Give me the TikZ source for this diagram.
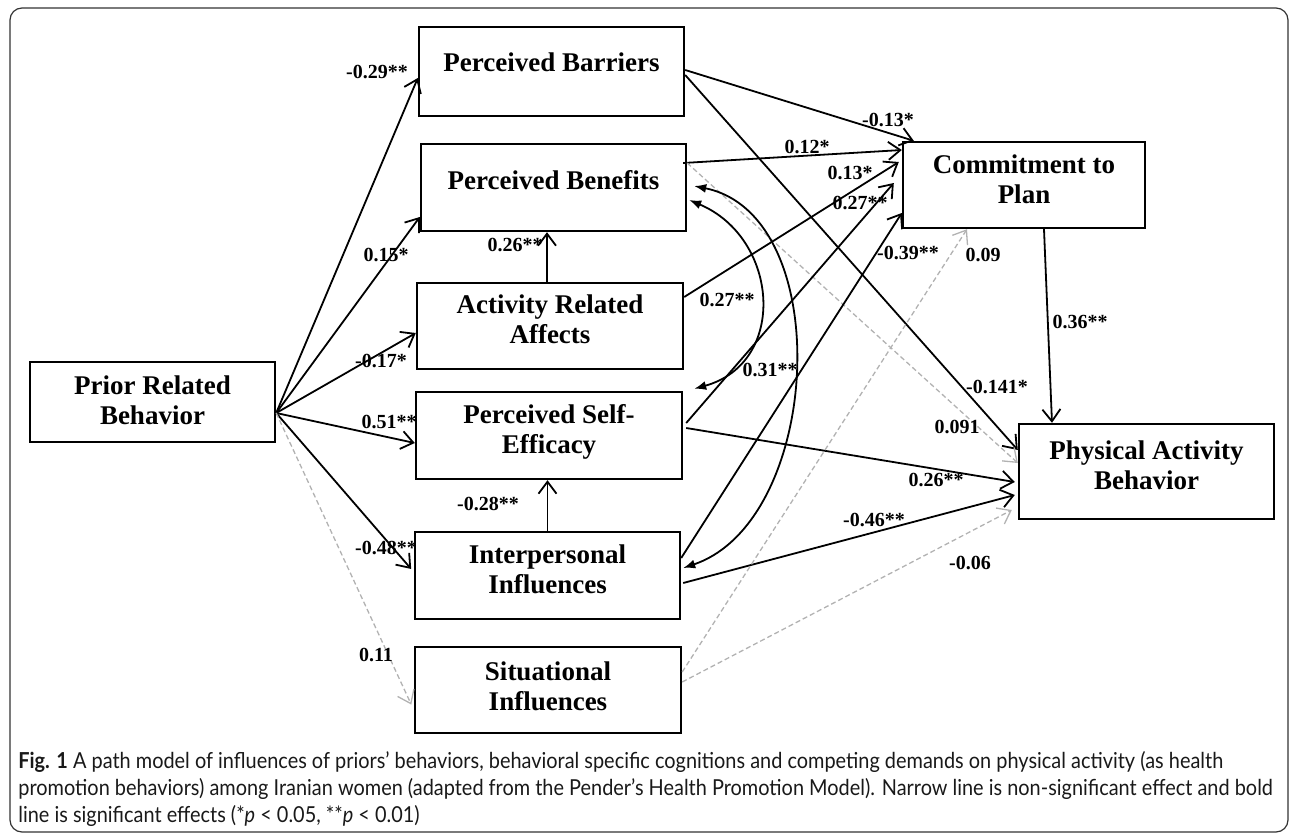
\documentclass[tikz,border=0pt]{standalone}
\usepackage{fontspec}
\setmainfont{Liberation Serif}
\newfontfamily\capfont[FakeStretch=0.905]{Lato}
\usetikzlibrary{arrows.meta,calc}
\begin{document}
\begin{tikzpicture}[x=0.5pt,y=-0.5pt,
  box/.style={draw, line width=1.2pt, align=center, inner sep=0pt,
    font=\fontsize{13.5}{15}\selectfont\bfseries},
  lab/.style={font=\fontsize{10}{12}\selectfont\bfseries, inner sep=0.5pt},
  arr/.style={line width=0.9pt, -{Straight Barb[length=6pt,width=9pt]}},
  ns/.style={gray!60, line width=0.65pt, dash pattern=on 2.5pt off 1.5pt,
    -{Straight Barb[length=6pt,width=9pt]}},
  cor/.style={line width=0.9pt, {Latex[length=6pt,width=4.5pt]}-{Latex[length=6pt,width=4.5pt]}},
]
\useasboundingbox (0,0) rectangle (1292,835);
\draw[line width=0.6pt, rounded corners=6pt, black!80] (10,8) rectangle (1288,832);

% boxes
\node[box, minimum width=132.5pt, minimum height=44.5pt, text depth=9pt]   (PB)   at (551.5,71.5) {Perceived Barriers};
\node[box, minimum width=132.5pt, minimum height=43.5pt, text depth=7.5pt] (PBen) at (553.5,187.5) {Perceived Benefits};
\node[box, minimum width=133pt,   minimum height=43pt,   text depth=6.5pt] (ARA)  at (550,326) {Activity Related\\Affects};
\node[box, minimum width=133pt,   minimum height=43.5pt, text depth=7pt]   (PSE)  at (549,435.5) {Perceived Self-\\Efficacy};
\node[box, minimum width=132.5pt, minimum height=43.5pt, text depth=6pt]   (II)   at (547.5,575.5) {Interpersonal\\Influences};
\node[box, minimum width=133pt,   minimum height=43pt,   text depth=3.5pt] (SI)   at (548,690) {Situational\\Influences};
\node[box, minimum width=122.5pt, minimum height=40pt,   text depth=2pt]   (PRB)  at (152.5,402) {Prior Related\\Behavior};
\node[box, minimum width=121pt,   minimum height=43pt,   text depth=5.5pt] (CP)   at (1024,185) {Commitment to\\Plan};
\node[box, minimum width=127.5pt, minimum height=47.5pt, text depth=6.5pt] (PAB)  at (1146.5,471.5) {Physical Activity\\Behavior};

\coordinate (o) at ([yshift=-5.5pt]PRB.east);

% from Prior Related Behavior
\draw[arr] (o) -- ([yshift=-3.25pt]PB.west);
\draw[arr] (o) -- ([yshift=-14.75pt]PBen.west);
\draw[arr] (o) -- ([yshift=-3.5pt]ARA.west);
\draw[arr] (o) -- ([yshift=-3.75pt]PSE.west);
\draw[arr, shorten >=2pt] (o) -- ([yshift=1.75pt]II.west);
\draw[ns, shorten >=3pt] (o) -- ([yshift=-10pt]SI.west);

% from Perceived Barriers
\draw[arr] ([yshift=0.75pt]PB.east) -- ([xshift=6pt]CP.north west);
\draw[arr] ([yshift=-1.75pt]PB.east) -- ([yshift=10.75pt]PAB.west);

% from Perceived Benefits
\draw[arr] ([xshift=-2pt,yshift=12.25pt]PBen.east) -- ([yshift=17.5pt]CP.west);
\draw[ns] ([yshift=12.25pt]PBen.east) -- ([yshift=4.25pt]PAB.west);

% from Activity Related Affects
\draw[arr] ([xshift=-1.5pt]ARA.north) -- ([xshift=-1.5pt]ARA.north |- PBen.south);
\draw[arr] ([yshift=14.5pt]ARA.east) -- ([xshift=-1.5pt,yshift=11.5pt]CP.west);

% from Perceived Self-Efficacy
\draw[arr] ([xshift=1.5pt,yshift=6.25pt]PSE.east) -- ([xshift=-4pt,yshift=1pt]CP.west);
\draw[arr] ([xshift=1.5pt,yshift=3.75pt]PSE.east) -- ([xshift=-1.5pt,yshift=-5.25pt]PAB.west);

% from Interpersonal Influences
\draw[arr] ([yshift=8.75pt]II.east) -- ([yshift=-14pt]CP.west);
\draw[arr] (II.north) -- (II.north |- PSE.south);
\draw[arr] ([xshift=1pt,yshift=-3.75pt]II.east) -- ([xshift=-1.5pt,yshift=-11.75pt]PAB.west);

% from Situational Influences
\draw[ns] ([yshift=9pt]SI.east) -- ([xshift=-28.5pt]CP.south);
\draw[ns] ([yshift=4pt]SI.east) -- ([xshift=-3pt,yshift=-19.25pt]PAB.west);

% from Commitment to Plan
\draw[arr] ([xshift=10pt]CP.south) -- ([xshift=-47.25pt]PAB.north);

% correlations
\draw[cor] ([xshift=1pt,yshift=-6.25pt]PBen.east) .. controls +(90,38) and +(94,-26) .. ([xshift=5.5pt,yshift=1pt]PSE.north east);
\draw[cor] ([xshift=3.5pt,yshift=0.75pt]PBen.east) .. controls +(143,29) and +(139,-47) .. ([xshift=1pt,yshift=3.75pt]II.east);

% labels
\node[lab] (l1)  at (377,72)  {-0.29**};
\node[lab] (l2)  at (386,255) {0.15*};
\node[lab] (l3)  at (381,361) {-0.17*};
\node[lab] (l4)  at (389,422) {0.51**};
\node[lab] (l5)  at (386,548) {-0.48**};
\node[lab] (l6)  at (376,655) {0.11};
\node[lab] (l7)  at (888,120) {-0.13*};
\node[lab] (l8)  at (997,387) {-0.141*};
\node[lab] (l9)  at (807,147) {0.12*};
\node[lab] (l10) at (957,427) {0.091};
\node[lab] (l11) at (515,245) {0.26**};
\node[lab] (l12) at (850,173) {0.13*};
\node[lab] (l13) at (860,203) {0.27**};
\node[lab] (l14) at (908,253) {-0.39**};
\node[lab] (l15) at (727,300) {0.27**};
\node[lab] (l16) at (770,370) {0.31**};
\node[lab] (l17) at (936,480) {0.26**};
\node[lab] (l18) at (488,504) {-0.28**};
\node[lab] (l19) at (874,520) {-0.46**};
\node[lab] (l20) at (983,255) {0.09};
\node[lab] (l21) at (970,563) {-0.06};
\node[lab] (l22) at (1080,322) {0.36**};

% caption
\node[anchor=north west, align=left, inner sep=0pt, text=black!90,
  font=\capfont\fontsize{11}{13.5}\selectfont] (cap) at (18,751)
  {\textbf{Fig. 1} A path model of influences of priors’ behaviors, behavioral specific cognitions and competing demands on physical activity (as health\\
   promotion behaviors) among Iranian women (adapted from the Pender’s Health Promotion Model). Narrow line is non-significant effect and bold\\
   line is significant effects (*\textit{p} < 0.05, **\textit{p} < 0.01)};
\end{tikzpicture}
\end{document}
